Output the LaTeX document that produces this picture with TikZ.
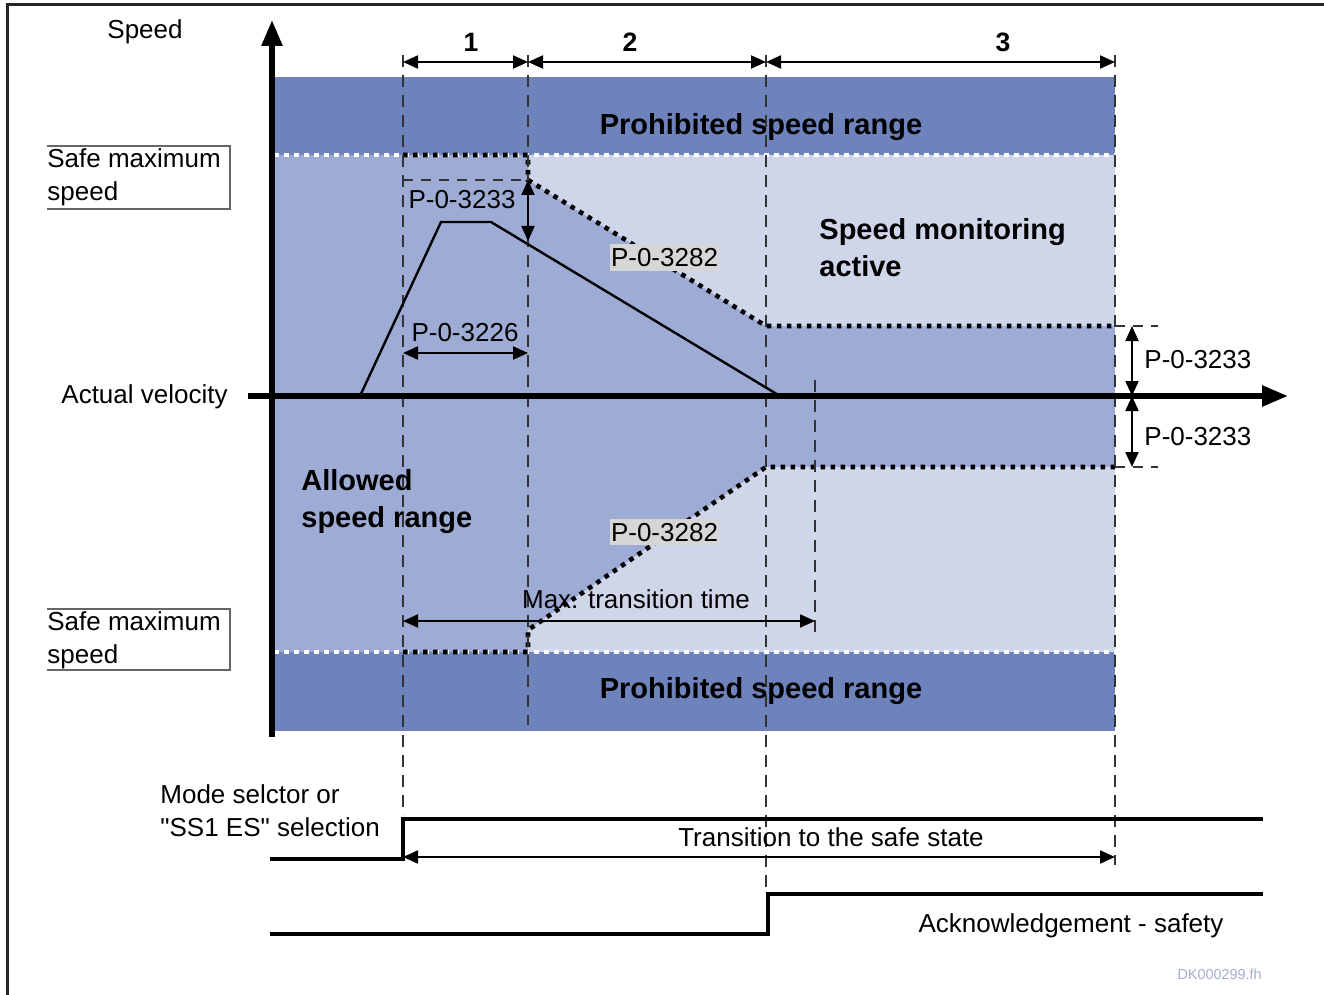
\documentclass[tikz,border=0pt]{standalone}
\usepackage{fontspec}
\setmainfont{Liberation Sans}
\usetikzlibrary{arrows.meta}
\definecolor{bandDark}{HTML}{6E82BC}
\definecolor{bandMid}{HTML}{9EABD4}
\definecolor{bandLight}{HTML}{D0D6EA}
\definecolor{lblGray}{HTML}{D6D6D6}
\definecolor{refBlue}{HTML}{A3AED0}
\definecolor{guide}{HTML}{333333}

\begin{document}
\begin{tikzpicture}[x=0.5pt,y=-0.5pt,
  txt/.style={font=\fontsize{13}{15}\selectfont, inner sep=0pt},
  boldtxt/.style={font=\fontsize{14.5}{17}\selectfont\bfseries, inner sep=0pt},
  numtxt/.style={font=\fontsize{13.3}{15}\selectfont\bfseries, inner sep=0pt},
  guideline/.style={draw=guide, line width=0.7pt, dash pattern=on 6pt off 4pt},
  shortdash/.style={draw=guide, line width=0.7pt, dash pattern=on 5pt off 4pt},
  dimline/.style={line width=1pt, {Triangle[length=7.5pt,width=6.5pt]}-{Triangle[length=7.5pt,width=6.5pt]}},
  limitline/.style={line width=2.3pt, dash pattern=on 2.3pt off 2.7pt},
  whitedots/.style={draw=white, line width=2pt, dash pattern=on 2.5pt off 2.5pt},
  signal/.style={line width=2pt},
  axisline/.style={line width=2.8pt, -{Triangle[length=13pt,width=10pt]}},
  boxline/.style={draw=black!60, line width=0.6pt},
  param/.style={txt, fill=lblGray, inner xsep=0.6pt, inner ysep=2pt, text height=9.4pt, text depth=0pt},
]
\useasboundingbox (0,0) rectangle (1324,995);

% outer frame (left and top edges)
\draw[line width=1.5pt, draw=black!85] (7,995) -- (7,5) -- (1324,5);

% speed bands
\fill[bandDark] (274,77) rectangle (1115,155);
\fill[bandDark] (274,652) rectangle (1115,731);
\fill[bandMid] (274,155) rectangle (1115,652);
\fill[bandLight] (528,155) -- (1115,155) -- (1115,326) -- (766,326) -- (528,180) -- cycle;
\fill[bandLight] (528,652) -- (528,630) -- (766,467) -- (1115,467) -- (1115,652) -- cycle;

% safe maximum speed limits
\draw[whitedots] (274,155) -- (1115,155);
\draw[whitedots] (274,652) -- (1115,652);

% monitored limits
\coordinate (uA) at (403,155);
\coordinate (uB) at (528,155);
\coordinate (uC) at (528,180);
\coordinate (uD) at (766,326);
\coordinate (uE) at (1115,326);
\coordinate (lA) at (403,652);
\coordinate (lB) at (528,652);
\coordinate (lC) at (528,630);
\coordinate (lD) at (766,467);
\coordinate (lE) at (1115,467);
\draw[limitline] (uA) -- (uB) -- (uC) -- (uD) -- (uE);
\draw[limitline] (lA) -- (lB) -- (lC) -- (lD) -- (lE);

% time marks
\coordinate (m1t) at (403,55);   \coordinate (m1b) at (403,815);
\coordinate (m2t) at (528,55);   \coordinate (m2b) at (528,725);
\coordinate (m3t) at (766,55);   \coordinate (m3b) at (766,893);
\coordinate (m4t) at (1115,55);  \coordinate (m4b) at (1115,865);
\coordinate (m5t) at (815,380);  \coordinate (m5b) at (815,637);
\draw[guideline] (m1t) -- (m1b);
\draw[guideline] (m2t) -- (m2b);
\draw[guideline] (m3t) -- (m3b);
\draw[guideline] (m4t) -- (m4b);
\draw[guideline] (m5t) -- (m5b);
\coordinate (h1a) at (403,180);
\draw[shortdash] (h1a) -- (uC);
\coordinate (h2b) at (1158,326);
\coordinate (h3b) at (1158,467);
\draw[shortdash] (uE) -- (h2b);
\draw[shortdash] (lE) -- (h3b);

% phase dimensions
\coordinate (p1) at (403,62);
\coordinate (p2) at (528,62);
\coordinate (p3) at (766,62);
\coordinate (p4) at (1115,62);
\draw[dimline] (p1) -- (p2);
\draw[dimline] (p2) -- (p3);
\draw[dimline] (p3) -- (p4);
\node[numtxt, anchor=base] (n1) at (471,52) {1};
\node[numtxt, anchor=base] (n2) at (630,52) {2};
\node[numtxt, anchor=base] (n3) at (1003,52) {3};

% axes
\coordinate (yb) at (272,737);
\coordinate (yt) at (272,20);
\coordinate (xl) at (248,396);
\coordinate (xr) at (1288,396);
\draw[axisline] (yb) -- (yt);
\draw[axisline] (xl) -- (xr);

% actual velocity profile
\coordinate (v0) at (360,396);
\coordinate (v1) at (441,222);
\coordinate (v2) at (491,222);
\coordinate (v3) at (780,396);
\draw[line width=1.2pt] (v0) -- (v1) -- (v2) -- (v3);

% parameter dimensions
\coordinate (a1) at (528,241);
\draw[dimline] (uC) -- (a1);
\coordinate (b1) at (403,353);
\coordinate (b2) at (528,353);
\draw[dimline] (b1) -- (b2);
\coordinate (r1) at (1132,326);
\coordinate (r2) at (1132,396);
\coordinate (r3) at (1132,467);
\draw[dimline] (r1) -- (r2);
\draw[dimline] (r2) -- (r3);
\coordinate (t1) at (403,621);
\coordinate (t2) at (815,621);
\draw[dimline] (t1) -- (t2);

% control signals
\coordinate (s1a) at (270,859);
\coordinate (s1b) at (403,859);
\coordinate (s1c) at (403,819);
\coordinate (s1d) at (1263,819);
\draw[signal] (s1a) -- (s1b) -- (s1c) -- (s1d);
\coordinate (s2a) at (270,934);
\coordinate (s2b) at (768,934);
\coordinate (s2c) at (768,894);
\coordinate (s2d) at (1263,894);
\draw[signal] (s2a) -- (s2b) -- (s2c) -- (s2d);
\coordinate (q1) at (403,857);
\coordinate (q2) at (1115,857);
\draw[dimline] (q1) -- (q2);

% left labels
\node[txt, anchor=base] (speedlbl) at (145,39) {Speed};
\node[txt, anchor=base west] (smaxA) at (47,168) {Safe maximum};
\node[txt, anchor=base west] (smaxAb) at (47,201) {speed};
\draw[boxline] (47,146) -| (230,209) -- (47,209);
\node[txt, anchor=base east] (actvel) at (228,403) {Actual velocity};
\node[txt, anchor=base west] (smaxB) at (47,630) {Safe maximum};
\node[txt, anchor=base west] (smaxBb) at (47,663) {speed};
\draw[boxline] (47,609) -| (230,670) -- (47,670);
\node[txt, anchor=base west] (modeA) at (160,803) {Mode selctor or};
\node[txt, anchor=base west] (modeB) at (160,836) {\textquotedbl SS1 ES\textquotedbl{} selection};

% region labels
\node[boldtxt, anchor=base] (proTop) at (761,135) {Prohibited speed range};
\node[boldtxt, anchor=base] (proBot) at (761,698) {Prohibited speed range};
\node[boldtxt, anchor=base west] (monA) at (819,240) {Speed monitoring};
\node[boldtxt, anchor=base west] (monB) at (819,277) {active};
\node[boldtxt, anchor=base west] (allA) at (301,490) {Allowed};
\node[boldtxt, anchor=base west] (allB) at (301,527) {speed range};

% parameter labels
\node[txt, anchor=base] (par1) at (462,209) {P-0-3233};
\node[txt, anchor=base] (par2) at (465,341) {P-0-3226};
\node[param] (par3) at (664.5,257.5) {P-0-3282};
\node[param] (par4) at (664.5,532) {P-0-3282};
\node[txt, anchor=base west] (par5) at (1144,368) {P-0-3233};
\node[txt, anchor=base west] (par6) at (1144,445) {P-0-3233};
\node[txt, anchor=base] (maxtt) at (636,608) {Max. transition time};
\node[txt, anchor=base] (trans) at (831,846) {Transition to the safe state};
\node[txt, anchor=base] (ack) at (1071,932) {Acknowledgement - safety};
\node[font=\fontsize{7.2}{9}\selectfont, text=refBlue, inner sep=0pt, anchor=base east] (docid) at (1262,979) {DK000299.fh};

\end{tikzpicture}
\end{document}
